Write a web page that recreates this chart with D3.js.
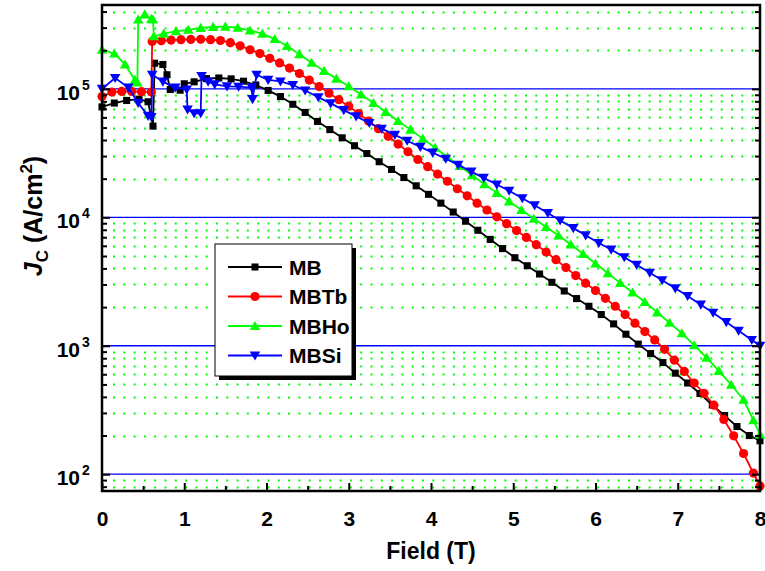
<!DOCTYPE html>
<html><head><meta charset="utf-8">
<script src="https://cdn.jsdelivr.net/npm/d3@7/dist/d3.min.js"></script>
<style>
body{margin:0;background:#fff}
svg{display:block}
text{font-family:"Liberation Sans",Arial,sans-serif;font-weight:bold;fill:#000}
</style>
</head><body>
<svg id="chart" width="765" height="571"></svg>
<script>
// ---------- data (field in T, Jc in A/cm^2) ----------
const mbField=[0,0.15,0.30,0.45,0.56,0.62,0.64,0.74,0.79,0.83,0.95,1.00,1.12,1.27,1.42,1.57,1.72,1.87,2.02,2.17,2.32,2.47,2.62,2.77,2.92,3.07,3.22,3.37,3.52,3.67,3.82,3.97,4.12,4.27,4.42,4.57,4.72,4.87,5.02,5.17,5.32,5.47,5.62,5.77,5.92,6.07,6.22,6.37,6.52,6.67,6.82,6.97,7.12,7.27,7.42,7.57,7.72,7.87,8.00];
const mbJc=[72400,77600,81300,83200,79400,51300,158500,154900,128800,98900,97700,109600,113500,120200,121600,119700,114800,107200,97300,87100,75900,65600,55800,48200,41600,36100,31400,27100,23600,20400,17600,15100,12900,11000,9330,7930,6730,5710,4850,4200,3620,3120,2670,2330,2030,1750,1480,1230,1030,869,740,612,513,425,346,286,235,200,182];

const mbtbField=[0,0.12,0.24,0.36,0.48,0.60,0.61,0.72,0.84,0.96,1.08,1.20,1.32,1.44,1.56,1.68,1.80,1.92,2.04,2.16,2.28,2.40,2.52,2.64,2.76,2.88,3.00,3.12,3.24,3.36,3.48,3.60,3.72,3.84,3.96,4.08,4.20,4.32,4.44,4.56,4.68,4.80,4.92,5.04,5.16,5.28,5.40,5.52,5.64,5.76,5.88,6.00,6.12,6.24,6.36,6.48,6.60,6.72,6.84,6.96,7.08,7.20,7.32,7.44,7.56,7.68,7.80,7.92,8.00];
const mbtbJc=[87100,94400,95500,95500,95100,94400,234400,237100,239900,241500,242700,243200,241500,238200,229100,216300,201800,188400,173000,159200,145200,131800,117200,104200,92700,82400,73300,64300,56200,49000,42700,37200,32400,28200,24800,21700,19100,16700,14700,12900,11400,10100,8930,7890,6970,6120,5370,4680,4060,3520,3070,2690,2340,2030,1750,1500,1290,1110,938,773,631,513,426,345,267,199,145,102,81];

const mbhoField=[0,0.15,0.28,0.40,0.43,0.44,0.52,0.60,0.62,0.63,0.75,0.90,1.05,1.20,1.35,1.50,1.65,1.80,1.95,2.10,2.25,2.40,2.55,2.70,2.85,3.00,3.15,3.30,3.45,3.60,3.75,3.90,4.05,4.20,4.35,4.50,4.65,4.80,4.95,5.10,5.25,5.40,5.55,5.70,5.85,6.00,6.15,6.30,6.45,6.60,6.75,6.90,7.05,7.20,7.35,7.50,7.65,7.80,7.92,8.00];
const mbhoJc=[202300,188400,154900,117500,112200,346700,380200,350800,346700,257000,269200,281800,288400,298500,304100,305500,299200,285100,269200,244300,215800,186200,159600,138000,120200,104700,90400,77600,66200,56200,48200,41000,34800,29500,25100,21300,18100,15500,13300,11400,9750,8410,7210,6140,5190,4370,3670,3090,2600,2190,1820,1510,1250,1010,809,638,497,380,263,204];

const mbsiField=[0,0.16,0.32,0.44,0.56,0.60,0.61,0.74,0.89,1.03,1.04,1.12,1.20,1.21,1.29,1.37,1.52,1.66,1.82,1.83,1.88,2.02,2.17,2.32,2.47,2.63,2.78,2.94,3.09,3.25,3.40,3.56,3.71,3.87,4.02,4.18,4.33,4.49,4.64,4.80,4.95,5.11,5.26,5.42,5.57,5.73,5.88,6.04,6.19,6.35,6.50,6.66,6.81,6.97,7.12,7.28,7.43,7.59,7.74,7.90,8.00];
const mbsiJc=[100000,121600,102300,77600,61700,60300,128800,114000,102300,98900,69200,64600,64600,125900,114000,108400,104700,104000,102300,83200,128800,117500,114300,107200,97100,86100,77100,68400,61100,54300,49000,43900,39500,35400,31900,28600,25600,22700,20300,18000,16100,14100,12400,10800,9460,8240,7240,6320,5610,4890,4270,3700,3240,2800,2440,2090,1810,1530,1310,1110,1000];

const seriesNames=["MB","MBTb","MBHo","MBSi"];
const seriesColors=["#000000","#ff0000","#00ff00","#0000ff"];
const xTickValues=[0,1,2,3,4,5,6,7,8];
const xMinorTickValues=[0.5,1.5,2.5,3.5,4.5,5.5,6.5,7.5];
const yTickValues=[100,1000,10000,100000];
const yTickExponents=["2","3","4","5"];

// ---------- layout ----------
const svg=d3.select("#chart");
const L=102,R=760,T=5,B=491;
const x=d3.scaleLinear().domain([0,8]).range([L,R]);
const y=d3.scaleLog().domain([74,450000]).range([B,T]);

const yMinor=y.ticks().filter(v=>!yTickValues.includes(v));

// grid: green dotted at minor values, blue at decades
const grid=svg.append("g");
grid.selectAll("line.minor").data(yMinor).join("line")
  .attr("x1",L+11).attr("x2",R-1)
  .attr("y1",d=>Math.round(y(d))+0.5).attr("y2",d=>Math.round(y(d))+0.5)
  .attr("stroke","#00ff00").attr("stroke-width",2).attr("stroke-dasharray","2,8.3");
grid.selectAll("line.major").data(yTickValues).join("line")
  .attr("x1",L).attr("x2",R)
  .attr("y1",d=>y(d)).attr("y2",d=>y(d))
  .attr("stroke","#0000ff").attr("stroke-width",1.3);

// series
const series=[
  {name:seriesNames[0],f:mbField,j:mbJc,color:seriesColors[0],sym:"square"},
  {name:seriesNames[1],f:mbtbField,j:mbtbJc,color:seriesColors[1],sym:"circle"},
  {name:seriesNames[2],f:mbhoField,j:mbhoJc,color:seriesColors[2],sym:"tri"},
  {name:seriesNames[3],f:mbsiField,j:mbsiJc,color:seriesColors[3],sym:"tridown"}
];
const symSq=d3.symbol().type(d3.symbolSquare).size(50);
const symTri=d3.symbol().type(d3.symbolTriangle).size(48);
function drawMarker(g,sym,color,cx,cy){
  if(sym==="circle"){
    g.append("circle").attr("cx",cx).attr("cy",cy).attr("r",4.6).attr("fill",color);
  }else if(sym==="square"){
    g.append("path").attr("d",symSq()).attr("transform",`translate(${cx},${cy})`).attr("fill",color);
  }else if(sym==="tri"){
    g.append("path").attr("d",symTri()).attr("transform",`translate(${cx},${cy+1})`).attr("fill",color);
  }else{
    g.append("path").attr("d",symTri()).attr("transform",`translate(${cx},${cy-1}) rotate(180)`).attr("fill",color);
  }
}
const line=d3.line().x(d=>x(d[0])).y(d=>y(d[1]));
const dataG=svg.append("g");
series.forEach(s=>{
  const pts=s.f.map((v,i)=>[v,s.j[i]]);
  const g=dataG.append("g");
  g.append("path").datum(pts).attr("d",line).attr("fill","none")
    .attr("stroke",s.color).attr("stroke-width",1.8).attr("stroke-linejoin","round");
  pts.forEach(p=>drawMarker(g,s.sym,s.color,x(p[0]),y(p[1])));
});

// frame
svg.append("rect").attr("x",L).attr("y",T).attr("width",R-L).attr("height",B-T)
  .attr("fill","none").attr("stroke","#000").attr("stroke-width",2.5);

// axes (inward ticks)
const axG=svg.append("g");
const xAxis=axG.append("g").attr("transform",`translate(0,${B})`)
  .call(d3.axisBottom(x).tickValues(xTickValues).tickSizeInner(-8).tickSizeOuter(0).tickPadding(20).tickFormat(d3.format("d")));
const xAxisMinor=axG.append("g").attr("transform",`translate(0,${B})`)
  .call(d3.axisBottom(x).tickValues(xMinorTickValues).tickSizeInner(-5).tickSizeOuter(0).tickFormat(""));
const yAxis=axG.append("g").attr("transform",`translate(${L},0)`)
  .call(d3.axisLeft(y).tickValues(yTickValues).tickSizeInner(-8).tickSizeOuter(0).tickFormat(""));
const yAxisMinor=axG.append("g").attr("transform",`translate(${L},0)`)
  .call(d3.axisLeft(y).tickValues(yMinor).tickSizeInner(-5).tickSizeOuter(0).tickFormat(""));
const yAxisR=axG.append("g").attr("transform",`translate(${R},0)`)
  .call(d3.axisRight(y).tickValues(yTickValues).tickSizeInner(-8).tickSizeOuter(0).tickFormat(""));
const yAxisRMinor=axG.append("g").attr("transform",`translate(${R},0)`)
  .call(d3.axisRight(y).tickValues(yMinor).tickSizeInner(-5).tickSizeOuter(0).tickFormat(""));
axG.selectAll(".domain").remove();
axG.selectAll(".tick line").attr("stroke","#000").attr("stroke-width",2);
xAxis.selectAll(".tick text").attr("font-size",21).attr("font-family","Liberation Sans, Arial, sans-serif").attr("font-weight","bold").attr("fill","#000");

// y tick labels with superscripts
const yl=svg.append("g");
yTickValues.forEach((v,i)=>{
  const t=yl.append("text").attr("x",80).attr("y",y(v)+11).attr("text-anchor","end").attr("font-size",21);
  t.append("tspan").text("10");
  yl.append("text").attr("x",82).attr("y",y(v)+1).attr("font-size",14).text(yTickExponents[i]);
});

// axis titles
svg.append("text").attr("x",431).attr("y",559).attr("text-anchor","middle").attr("font-size",23).text("Field (T)");
const yt=svg.append("text").attr("transform","translate(42,216) rotate(-90)").attr("text-anchor","middle").attr("font-size",25);
yt.append("tspan").attr("font-style","italic").text("J");
yt.append("tspan").attr("font-size",17).attr("dy",6).text("C");
yt.append("tspan").attr("dy",-6).text(" (A/cm");
yt.append("tspan").attr("font-size",17).attr("dy",-10).text("2");
yt.append("tspan").attr("dy",10).text(")");

// legend
const lg=svg.append("g");
lg.append("rect").attr("x",219).attr("y",248).attr("width",137).attr("height",132).attr("fill","#000");
lg.append("rect").attr("x",215).attr("y",244).attr("width",137).attr("height",132).attr("fill","#fff").attr("stroke","#000").attr("stroke-width",1);
series.forEach((s,i)=>{
  const cy=267+i*29.5;
  lg.append("line").attr("x1",228).attr("x2",282).attr("y1",cy).attr("y2",cy).attr("stroke",s.color).attr("stroke-width",1.8);
  drawMarker(lg,s.sym,s.color,255,cy);
  lg.append("text").attr("x",289).attr("y",cy+7.5).attr("font-size",21).text(s.name);
});
</script>
</body></html>
